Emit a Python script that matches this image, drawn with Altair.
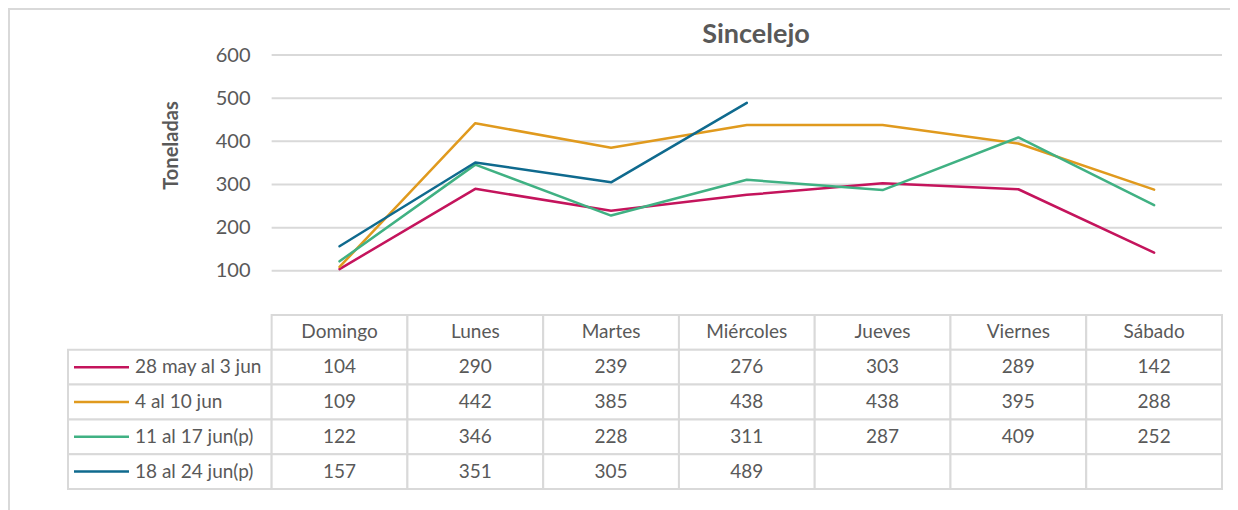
import altair as alt
import pandas as pd

# ---------------- data ----------------
days = ["Domingo", "Lunes", "Martes", "Miércoles", "Jueves", "Viernes", "Sábado"]
series = ["28 may al 3 jun", "4 al 10 jun", "11 al 17 jun(p)", "18 al 24 jun(p)"]
vals_28may_3jun = [104, 290, 239, 276, 303, 289, 142]
vals_4_10jun = [109, 442, 385, 438, 438, 395, 288]
vals_11_17jun = [122, 346, 228, 311, 287, 409, 252]
vals_18_24jun = [157, 351, 305, 489, None, None, None]
yticks = [100, 200, 300, 400, 500, 600]
title_text = "Sincelejo"
ytitle_text = "Toneladas"

# ---------------- style ----------------
colors = ["#C4145C", "#E09A1E", "#40B183", "#0F6A8E"]
widths = [2.5, 2.5, 2.5, 4]
TXT = "#595959"
GRID = "#d9d9d9"
FONT = "Lato"
LEGEND_COLS = 1.5
W, H = 1222, 510
X_RANGE = [60, 1214]
Y_VAL_RANGE = [306, 47]
Y_ROW_RANGE = [307, 481]

n = len(days)
all_vals = [vals_28may_3jun, vals_4_10jun, vals_11_17jun, vals_18_24jun]

rows = []
for k, (name, vals) in enumerate(zip(series, all_vals)):
    for i, (d, v) in enumerate(zip(days, vals)):
        rows.append({"series": name, "day": d, "col": i + 0.5, "row": k + 1.5,
                     "value": v, "label": "" if v is None else str(v)})
df = pd.DataFrame(rows)
line_df = df.dropna(subset=["value"])

header_df = pd.DataFrame({"day": days, "col": [i + 0.5 for i in range(n)], "row": [0.5] * n})
legend_df = pd.DataFrame({"series": series, "row": [k + 1.5 for k in range(len(series))],
                          "x0": [-LEGEND_COLS] * len(series)})
grid_df = pd.DataFrame({"v": yticks, "x0": [0] * len(yticks), "x1": [n] * len(yticks)})

cells = []
for i in range(n):
    cells.append({"x0": i, "x1": i + 1, "y0": 0, "y1": 1})
for k in range(len(series)):
    cells.append({"x0": -LEGEND_COLS, "x1": 0, "y0": k + 1, "y1": k + 2})
    for i in range(n):
        cells.append({"x0": i, "x1": i + 1, "y0": k + 1, "y1": k + 2})
cells_df = pd.DataFrame(cells)

xs = alt.Scale(domain=[-LEGEND_COLS, n], range=X_RANGE, nice=False, zero=False)
yv = alt.Scale(domain=[0, 600], range=Y_VAL_RANGE, nice=False, zero=False)
yr = alt.Scale(domain=[0, len(series) + 1], range=Y_ROW_RANGE, nice=False, zero=False)
cscale = alt.Scale(domain=series, range=colors)
wscale = alt.Scale(domain=series, range=widths)

frame_top = alt.Chart(grid_df.head(1)).mark_rule(color=GRID, strokeWidth=2).encode(
    x=alt.value(0), x2=alt.value(W), y=alt.value(1))
frame_left = alt.Chart(grid_df.head(1)).mark_rule(color=GRID, strokeWidth=2).encode(
    x=alt.value(1), y=alt.value(0), y2=alt.value(H))

grid = alt.Chart(grid_df).mark_rule(color=GRID, strokeWidth=2).encode(
    x=alt.X("x0:Q", scale=xs, axis=None),
    x2="x1:Q",
    y=alt.Y("v:Q", scale=yv, axis=alt.Axis(
        values=yticks, domain=False, ticks=False, grid=False, labelPadding=0,
        offset=-242, labelFontSize=20, labelColor=TXT, labelFont=FONT,
        title=ytitle_text, titleFontSize=20, titleFontWeight="bold", titleColor=TXT,
        titleFont=FONT, titleX=-79, titleY=137, titleBaseline="middle", titleAngle=270)),
)

lines = alt.Chart(line_df).mark_line(strokeJoin="round", strokeCap="round").encode(
    x=alt.X("col:Q", scale=xs, axis=None),
    y=alt.Y("value:Q", scale=yv, axis=None),
    color=alt.Color("series:N", scale=cscale, legend=None),
    strokeWidth=alt.StrokeWidth("series:N", scale=wscale, legend=None),
    order="col:Q",
)

cells_layer = alt.Chart(cells_df).mark_rect(fill="white", stroke=GRID, strokeWidth=2).encode(
    x=alt.X("x0:Q", scale=xs, axis=None), x2="x1:Q",
    y=alt.Y("y0:Q", scale=yr, axis=None), y2="y1:Q",
)

header = alt.Chart(header_df).mark_text(font=FONT, fontSize=19, color=TXT, baseline="middle").encode(
    x=alt.X("col:Q", scale=xs, axis=None),
    y=alt.Y("row:Q", scale=yr, axis=None),
    text="day:N",
)

body = alt.Chart(df).mark_text(font=FONT, fontSize=19, color=TXT, baseline="middle").encode(
    x=alt.X("col:Q", scale=xs, axis=None),
    y=alt.Y("row:Q", scale=yr, axis=None),
    text="label:N",
)

leg_lines = alt.Chart(legend_df).mark_rule(xOffset=6, x2Offset=61).encode(
    x=alt.X("x0:Q", scale=xs, axis=None), x2="x0:Q",
    y=alt.Y("row:Q", scale=yr, axis=None),
    color=alt.Color("series:N", scale=cscale, legend=None),
    strokeWidth=alt.StrokeWidth("series:N", scale=wscale, legend=None),
)

leg_text = alt.Chart(legend_df).mark_text(font=FONT, fontSize=19, color=TXT, align="left",
                                           baseline="middle", dx=67).encode(
    x=alt.X("x0:Q", scale=xs, axis=None),
    y=alt.Y("row:Q", scale=yr, axis=None),
    text="series:N",
)

chart = alt.layer(frame_top, frame_left, grid, lines, cells_layer, header, body,
                  leg_lines, leg_text).resolve_scale(
    y="independent"
).properties(
    width=W, height=H,
    title=alt.Title(title_text, font=FONT, fontSize=27, fontWeight="bold", color=TXT,
                    frame="group", anchor="middle", baseline="alphabetic", offset=0, dx=137, dy=63),
    autosize=alt.AutoSizeParams(type="none"),
    padding=0,
).configure_view(stroke=None).configure(background="white")

chart.save("out.html", embed_options={"renderer": "svg", "actions": False})
